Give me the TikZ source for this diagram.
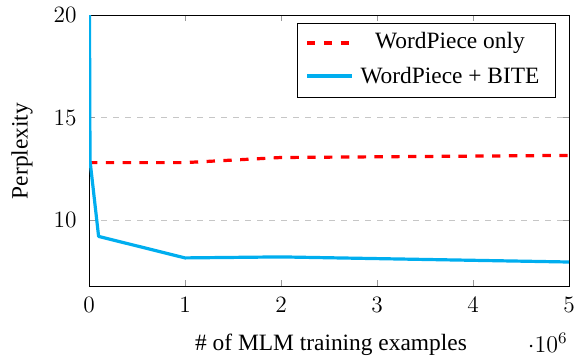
\documentclass[tikz,border=0pt]{standalone}
\usepackage{fontspec}
\newfontfamily\tms{Liberation Serif}
\definecolor{bitecol}{RGB}{0,174,239}
\begin{document}
\begin{tikzpicture}[x=0.5pt,y=-0.5pt,
  tms/.style={font=\tms\fontsize{11.7}{14}\selectfont},
  ticklab/.style={font=\fontsize{11.7}{14}\selectfont, inner sep=0pt},
  gridline/.style={gray!45, dashed, line width=0.4pt},
  tickmark/.style={gray!80, line width=0.4pt},
  redser/.style={red, line width=1.6pt, dash pattern=on 4.2pt off 4.2pt},
  blueser/.style={bitecol, line width=1.6pt, line join=round},
  legbox/.style={draw=black, fill=white, line width=0.4pt}]
\useasboundingbox (0,0) rectangle (583,360);
% grid
\draw[gridline] (89,117.5) -- (569,117.5);
\draw[gridline] (89,220) -- (569,220);
% ticks
\foreach \xx in {185,281,377,473} {
  \draw[tickmark] (\xx,286) -- (\xx,280);
  \draw[tickmark] (\xx,15) -- (\xx,21);
}
\foreach \yy in {117.5,220} {
  \draw[tickmark] (89,\yy) -- (95,\yy);
  \draw[tickmark] (569,\yy) -- (563,\yy);
}
% axis frame
\draw[black, line width=0.4pt] (89,15) rectangle (569,286);
% series
\begin{scope}
\clip (89,15) rectangle (569,286);
\draw[redser] (89,162.6) -- (98.6,162.6) -- (185,162.6) -- (281,157.5) -- (569,155.4);
\draw[blueser] (89.5,15) -- (90,160.5) -- (98.6,236.4) -- (185,257.9) -- (281,256.9) -- (569,262.0);
\end{scope}
% tick labels
\foreach \v/\xx in {0/89,1/185,2/281,3/377,4/473,5/569}
  \node[ticklab] (xt\v) at (\xx,304.5) {\v};
\node[ticklab, anchor=east] (yt20) at (77,15) {20};
\node[ticklab, anchor=east] (yt15) at (77,117.5) {15};
\node[ticklab, anchor=east] (yt10) at (77,220) {10};
% axis labels
\node[tms, rotate=90] (ylab) at (22,151) {Perplexity};
\node[tms] (xlab) at (331,345) {\# of MLM training examples};
\node[ticklab, anchor=east] (xexp) at (568,343) {$\cdot 10^{6}$};
% legend
\node[legbox, minimum width=129pt, minimum height=37pt, inner sep=0pt] (leg) at (426,60) {};
\coordinate (r1a) at (307,43); \coordinate (r1b) at (352,43);
\coordinate (b1a) at (307,76); \coordinate (b1b) at (352,76);
\draw[redser] (r1a) -- (r1b);
\draw[blueser] (b1a) -- (b1b);
\node[tms, inner sep=0pt] (l1) at (450,43) {WordPiece only};
\node[tms, inner sep=0pt] (l2) at (450,76) {WordPiece + BITE};
\end{tikzpicture}
\end{document}
